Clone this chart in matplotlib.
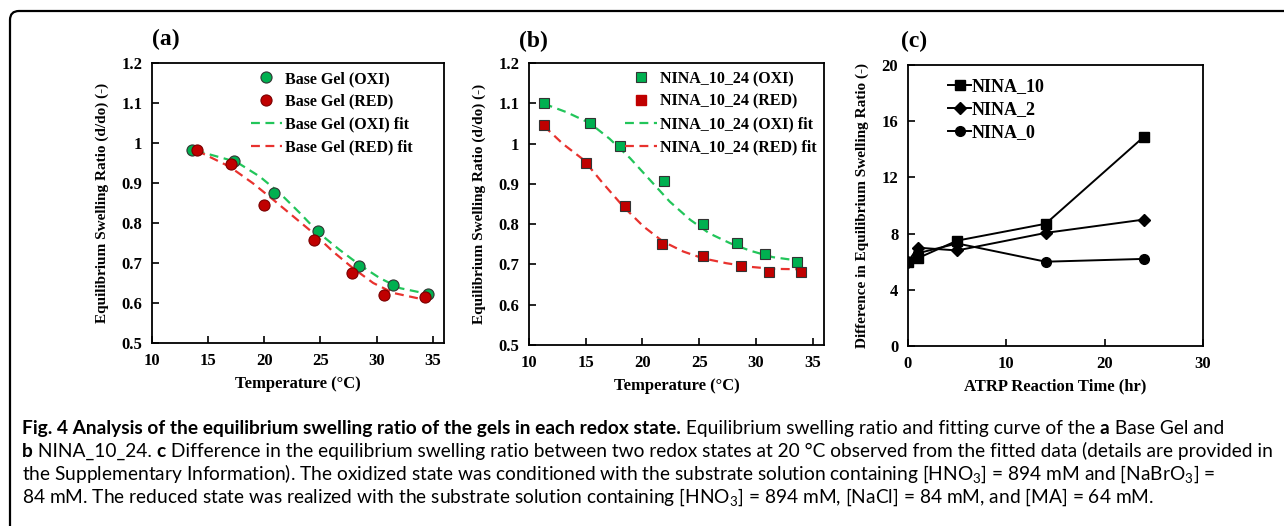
import numpy as np
import matplotlib
matplotlib.use("Agg")
import matplotlib.pyplot as plt
from matplotlib.path import Path
from matplotlib.patches import PathPatch
from matplotlib.lines import Line2D

# ---- data ----
# (a) Base Gel
a_oxi_T = [13.6, 17.3, 20.9, 24.8, 28.4, 31.5, 34.6]
a_oxi_r = [0.982, 0.955, 0.874, 0.781, 0.693, 0.644, 0.623]
a_red_T = [14.0, 17.0, 20.0, 24.4, 27.8, 30.7, 34.3]
a_red_r = [0.982, 0.947, 0.844, 0.758, 0.675, 0.621, 0.615]
a_oxi_fit_T = [13.9, 17.5, 19.6, 21.4, 23.2, 24.9, 26.7, 28.5, 30.3, 32.1, 34.5]
a_oxi_fit_r = [0.981, 0.953, 0.916, 0.874, 0.824, 0.774, 0.733, 0.695, 0.662, 0.637, 0.623]
a_red_fit_T = [14.0, 16.9, 19.0, 20.8, 22.6, 24.4, 26.1, 27.9, 29.7, 31.5, 34.3]
a_red_fit_r = [0.981, 0.941, 0.899, 0.858, 0.816, 0.774, 0.729, 0.687, 0.650, 0.625, 0.608]

# (b) NINA_10_24
b_oxi_T = [11.3, 15.35, 18.0, 21.9, 25.35, 28.3, 30.8, 33.6]
b_oxi_r = [1.100, 1.050, 0.995, 0.906, 0.800, 0.754, 0.727, 0.707]
b_red_T = [11.3, 15.0, 18.5, 21.7, 25.35, 28.65, 31.15, 33.95]
b_red_r = [1.047, 0.953, 0.846, 0.751, 0.721, 0.695, 0.681, 0.681]
b_oxi_fit_T = [11.3, 13.3, 15.35, 17.1, 18.9, 20.65, 22.4, 24.2, 25.9, 27.7, 29.5, 31.5, 33.6]
b_oxi_fit_r = [1.099, 1.078, 1.051, 1.012, 0.964, 0.910, 0.856, 0.811, 0.777, 0.753, 0.734, 0.718, 0.710]
b_red_fit_T = [11.3, 13.0, 14.8, 16.5, 18.3, 20.1, 21.8, 23.6, 25.35, 27.4, 29.5, 31.5, 33.9]
b_red_fit_r = [1.044, 0.999, 0.960, 0.902, 0.844, 0.794, 0.757, 0.732, 0.715, 0.703, 0.694, 0.689, 0.688]

# (c) difference vs ATRP time
atrp_time = [0, 1, 5, 14, 24]
nina_10 = [6.0, 6.25, 7.5, 8.7, 14.9]
nina_2 = [6.0, 7.0, 6.8, 8.05, 9.0]
nina_0 = [6.0, 6.6, 7.3, 6.0, 6.2]

W, H = 1284, 526
green, red = '#00b050', '#c00000'
green_fit, red_fit = '#22c55a', '#e8322e'
serif = 'Liberation Serif'

fig = plt.figure(figsize=(W / 100, H / 100), dpi=100)


def px_axes(x0, y0, x1, y1):
    # axes from pixel box (top-left origin)
    return fig.add_axes([x0 / W, 1 - y1 / H, (x1 - x0) / W, (y1 - y0) / H])


def style(ax, xlim, ylim, xticks, yticks, yfmt, xlabel, ylabel):
    ax.set_xlim(*xlim)
    ax.set_ylim(*ylim)
    ax.set_xticks(xticks)
    ax.set_yticks(yticks)
    ax.set_yticklabels([yfmt(v) for v in yticks])
    ax.tick_params(direction='in', length=5, width=1.2, pad=7,
                   top=False, right=False)
    for lab in ax.get_xticklabels() + ax.get_yticklabels():
        lab.set_fontfamily(serif)
        lab.set_fontweight('bold')
        lab.set_fontsize(12)
    for s in ax.spines.values():
        s.set_linewidth(1.3)
    ax.set_xlabel(xlabel, fontfamily=serif, fontweight='bold', fontsize=12, labelpad=5)
    ax.set_ylabel(ylabel, fontfamily=serif, fontweight='bold', fontsize=11, labelpad=9)


def ratio_fmt(v):
    s = '%.1f' % v
    return '1' if s == '1.0' else s


leg_prop = {'family': serif, 'weight': 'bold', 'size': 11.5}

# ---- (a) ----
ax = px_axes(152, 63, 444, 343)
ax.plot(a_oxi_fit_T, a_oxi_fit_r, '--', color=green_fit, lw=1.6, dashes=(4, 2.5))
ax.plot(a_red_fit_T, a_red_fit_r, '--', color=red_fit, lw=1.6, dashes=(4, 2.5))
ax.plot(a_oxi_T, a_oxi_r, 'o', ms=8, mfc=green, mec='#333333', mew=0.8)
ax.plot(a_red_T, a_red_r, 'o', ms=8, mfc=red, mec='#7a0000', mew=0.8)
style(ax, (10, 36), (0.5, 1.2), [10, 15, 20, 25, 30, 35],
      np.round(np.arange(0.5, 1.21, 0.1), 1), ratio_fmt,
      'Temperature (°C)', 'Equilibrium Swelling Ratio (d/do) (-)')
h = [Line2D([], [], ls='none', marker='o', ms=8, mfc=green, mec='#333333', mew=0.8),
     Line2D([], [], ls='none', marker='o', ms=8, mfc=red, mec='#7a0000', mew=0.8),
     Line2D([], [], ls='--', color=green_fit, lw=1.6, dashes=(4, 2.5)),
     Line2D([], [], ls='--', color=red_fit, lw=1.6, dashes=(4, 2.5))]
ax.legend(h, ['Base Gel (OXI)', 'Base Gel (RED)', 'Base Gel (OXI) fit', 'Base Gel (RED) fit'],
          loc='upper left', bbox_to_anchor=(0.31, 1.0), frameon=False, borderpad=0,
          handlelength=2.0, handletextpad=0.15, labelspacing=0.42, prop=leg_prop)
fig.text(166 / W, 1 - 39 / H, '(a)', fontfamily=serif, fontweight='bold', fontsize=17,
         ha='center', va='center')

# ---- (b) ----
ax = px_axes(529, 63, 824, 345)
ax.plot(b_oxi_fit_T, b_oxi_fit_r, '--', color=green_fit, lw=1.6, dashes=(4, 2.5))
ax.plot(b_red_fit_T, b_red_fit_r, '--', color=red_fit, lw=1.6, dashes=(4, 2.5))
ax.plot(b_oxi_T, b_oxi_r, 's', ms=7.5, mfc=green, mec='#333333', mew=0.8)
ax.plot(b_red_T, b_red_r, 's', ms=7.5, mfc=red, mec='#333333', mew=0.8)
style(ax, (10, 36), (0.5, 1.2), [10, 15, 20, 25, 30, 35],
      np.round(np.arange(0.5, 1.21, 0.1), 1), ratio_fmt,
      'Temperature (°C)', 'Equilibrium Swelling Ratio (d/do) (-)')
h = [Line2D([], [], ls='none', marker='s', ms=7.5, mfc=green, mec='#333333', mew=0.8),
     Line2D([], [], ls='none', marker='s', ms=7.5, mfc=red, mec=red),
     Line2D([], [], ls='--', color=green_fit, lw=1.6, dashes=(4, 2.5)),
     Line2D([], [], ls='--', color=red_fit, lw=1.6, dashes=(4, 2.5))]
ax.legend(h, ['NINA_10_24 (OXI)', 'NINA_10_24 (RED)', 'NINA_10_24 (OXI) fit', 'NINA_10_24 (RED) fit'],
          loc='upper left', bbox_to_anchor=(0.30, 1.0), frameon=False, borderpad=0,
          handlelength=2.0, handletextpad=0.15, labelspacing=0.42, prop=leg_prop)
fig.text(533 / W, 1 - 41 / H, '(b)', fontfamily=serif, fontweight='bold', fontsize=17,
         ha='center', va='center')

# ---- (c) ----
ax = px_axes(908, 65, 1203, 346)
ax.plot(atrp_time, nina_10, '-s', color='black', lw=1.4, ms=7.5, label='NINA_10')
ax.plot(atrp_time, nina_2, '-D', color='black', lw=1.4, ms=6, label='NINA_2')
ax.plot(atrp_time, nina_0, '-o', color='black', lw=1.4, ms=7, label='NINA_0')
style(ax, (0, 30), (0, 20), [0, 10, 20, 30], [0, 4, 8, 12, 16, 20],
      lambda v: '%d' % v, 'ATRP Reaction Time (hr)',
      'Difference in Equilibrium Swelling Ratio (-)')
ax.legend(loc='upper left', bbox_to_anchor=(0.105, 0.985), frameon=False, borderpad=0,
          handlelength=1.3, handletextpad=0.02, labelspacing=0.33,
          prop={'family': serif, 'weight': 'bold', 'size': 13})
fig.text(914 / W, 1 - 41 / H, '(c)', fontfamily=serif, fontweight='bold', fontsize=17,
         ha='center', va='center')

# ---- frame with rounded top-left corner ----
verts = [(10, H + 5), (10, 20), (10, 11), (19, 11), (W + 5, 11)]
codes = [Path.MOVETO, Path.LINETO, Path.CURVE3, Path.CURVE3, Path.LINETO]
verts = [(x / W, 1 - y / H) for x, y in verts]
fig.add_artist(PathPatch(Path(verts, codes), fill=False, lw=1.6, ec='black',
                         transform=fig.transFigure, clip_on=False))

# ---- caption ----
plt.rcParams['mathtext.fontset'] = 'custom'
plt.rcParams['mathtext.rm'] = 'Lato'
cap_font = ['Lato', 'DejaVu Sans']
caption = [
    [('Fig. 4 Analysis of the equilibrium swelling ratio of the gels in each redox state.', 'bold'),
     (' Equilibrium swelling ratio and fitting curve of the ', 'normal'),
     ('a', 'bold'), (' Base Gel and', 'normal')],
    [('b', 'bold'), (' NINA_10_24. ', 'normal'), ('c', 'bold'),
     (' Difference in the equilibrium swelling ratio between two redox states at 20 °C observed '
      'from the fitted data (details are provided in', 'normal')],
    [('the Supplementary Information). The oxidized state was conditioned with the substrate '
      'solution containing [HNO$_\\mathrm{3}$] = 894 mM and [NaBrO$_\\mathrm{3}$] =', 'normal')],
    [('84 mM. The reduced state was realized with the substrate solution containing '
      '[HNO$_\\mathrm{3}$] = 894 mM, [NaCl] = 84 mM, and [MA] = 64 mM.', 'normal')],
]
baselines = [434, 457, 480, 503]

fig.canvas.draw()
rend = fig.canvas.get_renderer()


def draw_line(segs, y, size):
    x = 22.0
    arts = []
    for txt, wt in segs:
        t = fig.text(x / W, 1 - y / H, txt, fontfamily=cap_font, fontweight=wt,
                     fontsize=size, va='baseline', ha='left')
        bb = t.get_window_extent(renderer=rend)
        x += bb.width
        arts.append(t)
    return arts, x - 22.0


# fit the font size so that the widest caption line ends at the right margin
size = 12.0
widest = 0
for segs, y in zip(caption, baselines):
    arts, w = draw_line(segs, y, size)
    widest = max(widest, w)
    for a in arts:
        a.remove()
size = size * 1246.0 / widest
for segs, y in zip(caption, baselines):
    draw_line(segs, y, size)

fig.savefig('out.png', dpi=100)
